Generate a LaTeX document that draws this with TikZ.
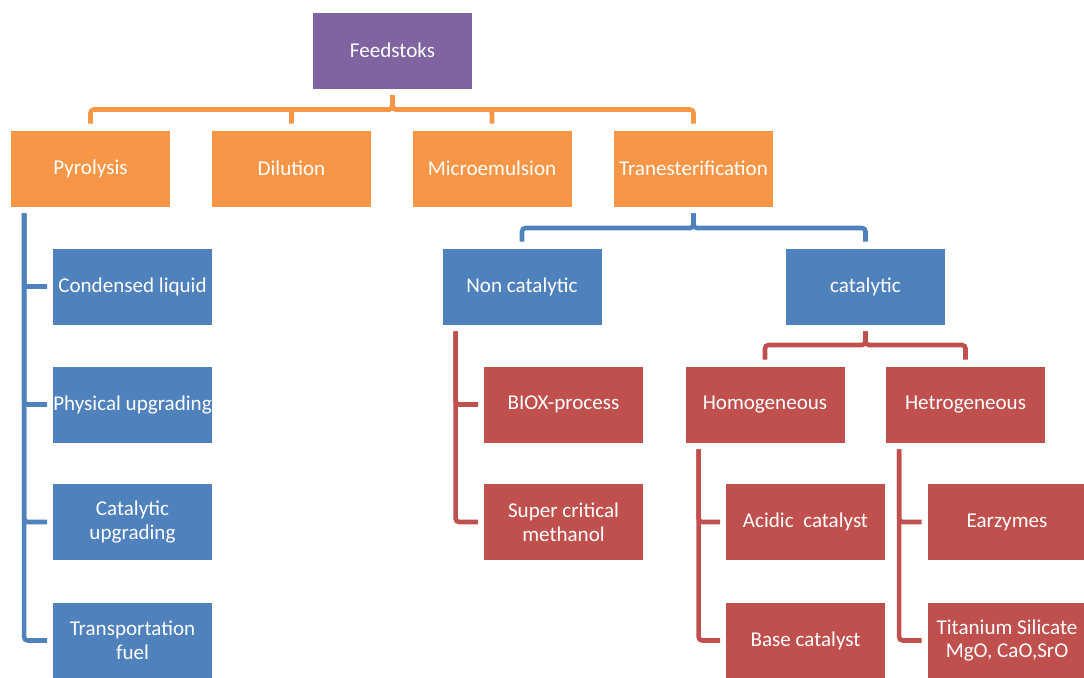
\documentclass[tikz,border=0pt]{standalone}
\usepackage{fontspec}
\setmainfont{Carlito}
\usepackage{tikz}

\definecolor{FeedPurple}{HTML}{8064A2}
\definecolor{RouteOrange}{HTML}{F79646}
\definecolor{StepBlue}{HTML}{4F81BD}
\definecolor{CatRed}{HTML}{C0504D}

\begin{document}
\begin{tikzpicture}[x=0.02cm, y=-0.02cm,
        every node/.append style={font=\fontsize{12}{13.5}\selectfont, text=white, align=center}]
      \tikzstyle{box} = [rectangle, draw=white, line width=0.4pt, minimum width=3.2cm, minimum height=1.54cm, inner xsep=0pt]
      \tikzstyle{link} = [line width=2.6pt, rounded corners=2pt, shorten <=0.12cm, shorten >=0.12cm]
      \useasboundingbox (0,0) rectangle (1084,677);
      % top levels
      \node (Feed) [box, fill=FeedPurple] at (392.5,50.5) {Feedstoks};
      \node (Pyro) [box, fill=RouteOrange] at (90.5,168.5) {Pyrolysis};
      \node (Dilu) [box, fill=RouteOrange] at (291.5,168.5) {Dilution};
      \node (Micro) [box, fill=RouteOrange] at (492,168.5) {Microemulsion};
      \node (Trans) [box, fill=RouteOrange] at (693.5,168.5) {Tranesterification};
      % pyrolysis branch
      \node (Cond) [box, fill=StepBlue] at (132.5,286.5) {Condensed liquid};
      \node (Phys) [box, fill=StepBlue] at (132.5,404.5) {Physical upgrading};
      \node (CatUp) [box, fill=StepBlue] at (132.5,522) {Catalytic\\upgrading};
      \node (Fuel) [box, fill=StepBlue] at (132.5,640.5) {Transportation\\fuel};
      % transesterification branch
      \node (NonCat) [box, fill=StepBlue] at (522,286.5) {Non catalytic};
      \node (Cat) [box, fill=StepBlue] at (865.5,286.5) {catalytic};
      \node (Biox) [box, fill=CatRed] at (563.5,404.5) {BIOX-process};
      \node (Super) [box, fill=CatRed] at (563.5,522) {Super critical\\methanol};
      \node (Homo) [box, fill=CatRed] at (765,404.5) {Homogeneous};
      \node (Hetro) [box, fill=CatRed] at (965.5,404.5) {Hetrogeneous};
      \node (Acid) [box, fill=CatRed] at (805.5,522) {Acidic\ \ catalyst};
      \node (Base) [box, fill=CatRed] at (805.5,640.5) {Base catalyst};
      \node (Enz) [box, fill=CatRed] at (1007,522) {Earzymes};
      \node (Titan) [box, fill=CatRed] at (1007,640.5) {Titanium Silicate\\MgO, CaO,SrO};
      % connectors
      \draw[link, RouteOrange] (Feed) -- (Feed |- 0,109.5) -| (Pyro);
      \draw[link, RouteOrange] (Feed) -- (Feed |- 0,109.5) -| (Dilu);
      \draw[link, RouteOrange] (Feed) -- (Feed |- 0,109.5) -| (Micro);
      \draw[link, RouteOrange] (Feed) -- (Feed |- 0,109.5) -| (Trans);
      \draw[link, StepBlue] (Trans) -- (Trans |- 0,228) -| (NonCat);
      \draw[link, StepBlue] (Trans) -- (Trans |- 0,228) -| (Cat);
      \draw[link, CatRed] (Cat) -- (Cat |- 0,345) -| (Homo);
      \draw[link, CatRed] (Cat) -- (Cat |- 0,345) -| (Hetro);
      \draw[link, StepBlue, shorten >=0.1cm] ([xshift=0.28cm]Pyro.south west) |- (Cond);
      \draw[link, StepBlue, shorten >=0.1cm] ([xshift=0.28cm]Pyro.south west) |- (Phys);
      \draw[link, StepBlue, shorten >=0.1cm] ([xshift=0.28cm]Pyro.south west) |- (CatUp);
      \draw[link, StepBlue, shorten >=0.1cm] ([xshift=0.28cm]Pyro.south west) |- (Fuel);
      \draw[link, CatRed, shorten >=0.1cm] ([xshift=0.28cm]NonCat.south west) |- (Biox);
      \draw[link, CatRed, shorten >=0.1cm] ([xshift=0.28cm]NonCat.south west) |- (Super);
      \draw[link, CatRed, shorten >=0.1cm] ([xshift=0.28cm]Homo.south west) |- (Acid);
      \draw[link, CatRed, shorten >=0.1cm] ([xshift=0.28cm]Homo.south west) |- (Base);
      \draw[link, CatRed, shorten >=0.1cm] ([xshift=0.28cm]Hetro.south west) |- (Enz);
      \draw[link, CatRed, shorten >=0.1cm] ([xshift=0.28cm]Hetro.south west) |- (Titan);
    \end{tikzpicture}
\end{document}
